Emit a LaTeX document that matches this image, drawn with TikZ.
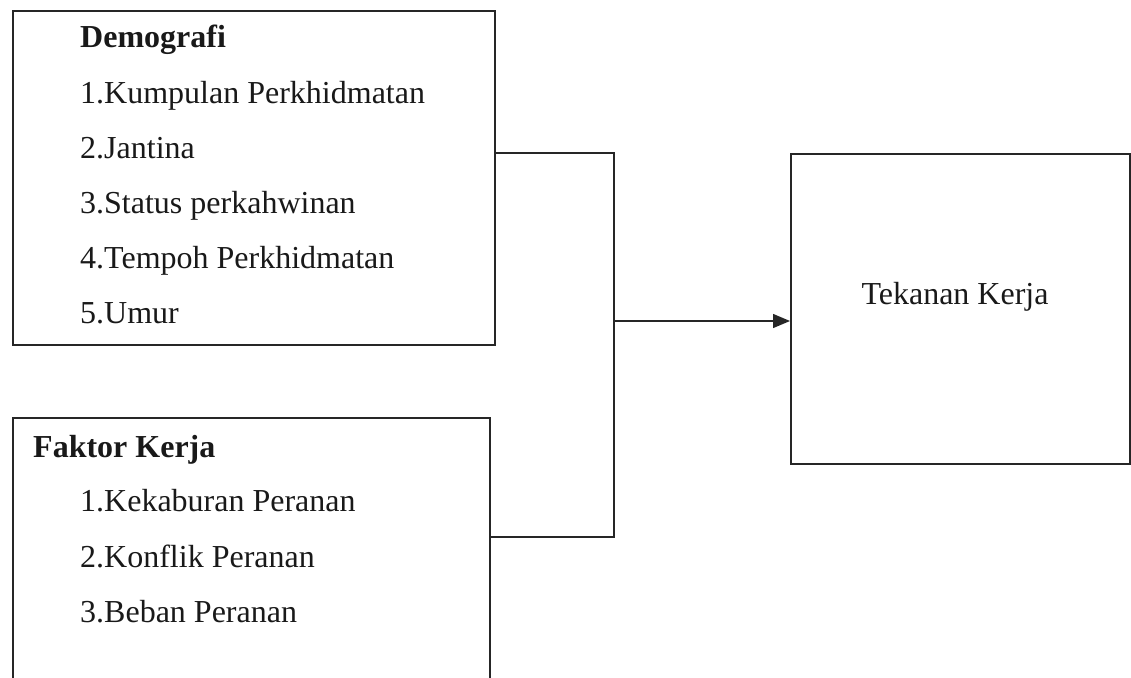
\documentclass[tikz,border=0pt]{standalone}
\usepackage{fontspec}
\setmainfont{Liberation Serif}
\usetikzlibrary{arrows.meta}
\begin{document}
\begin{tikzpicture}[x=1pt,y=-1pt,
  every node/.style={font=\fontsize{32}{38}\selectfont, text=black!90},
  box/.style={draw=black!85, line width=1.6pt, inner sep=0pt, anchor=north west},
  txt/.style={anchor=base west, inner sep=0pt},
  conn/.style={draw=black!85, line width=1.3pt}]
\path[use as bounding box, clip] (0,0) rectangle (1131,677);
% boxes
\node[box, minimum width=482pt, minimum height=334pt] (dem) at (12,10) {};
\node[box, minimum width=477pt, minimum height=300pt] (fak) at (12,417) {};
\node[box, minimum width=339pt, minimum height=310pt] (tek) at (790,153) {};
% texts
\node[txt] (d0) at (80,48) {\textbf{Demografi}};
\node[txt] (d1) at (80,103) {1.Kumpulan Perkhidmatan};
\node[txt] (d2) at (80,158) {2.Jantina};
\node[txt] (d3) at (80,213) {3.Status perkahwinan};
\node[txt] (d4) at (80,268) {4.Tempoh Perkhidmatan};
\node[txt] (d5) at (80,323) {5.Umur};
\node[txt] (f0) at (33,457) {\textbf{Faktor Kerja}};
\node[txt] (f1) at (80,511) {1.Kekaburan Peranan};
\node[txt] (f2) at (80,567) {2.Konflik Peranan};
\node[txt] (f3) at (80,622) {3.Beban Peranan};
\node[anchor=base, inner sep=0pt] (t0) at (955,304) {Tekanan Kerja};
% connectors
\coordinate (ja) at (614,153);
\coordinate (jb) at (614,537);
\coordinate (jm) at (614,321);
\draw[conn] (dem.east |- ja) -- (ja) -- (jb) -- (fak.east |- jb);
\draw[conn, -{Triangle[length=17pt,width=14pt]}] (jm) -- (tek.west |- jm);
\end{tikzpicture}
\end{document}
